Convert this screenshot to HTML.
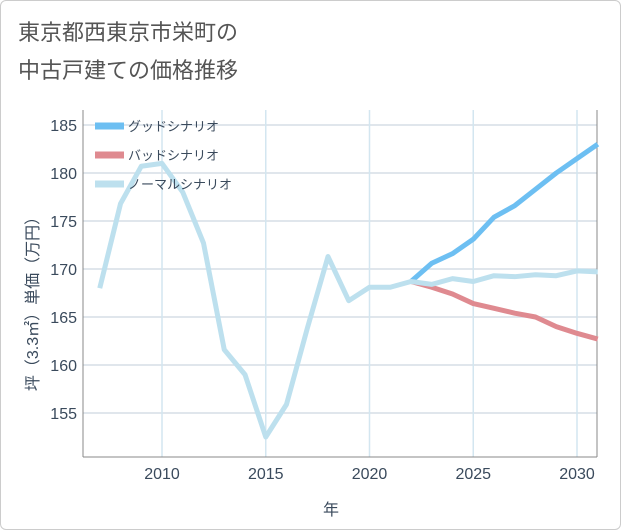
<!DOCTYPE html>
<html><head><meta charset="utf-8"><style>
body{margin:0;background:#fff;}
#c{width:619px;height:528px;border:1px solid #ccc;border-radius:6px;position:relative;font-family:"Liberation Sans","Noto Sans CJK JP",sans-serif;}
</style></head><body>
<div id="c">
<svg width="621" height="530" style="position:absolute;left:-1px;top:-1px" font-family="Liberation Sans, Noto Sans CJK JP, sans-serif">
<text x="18" y="40" font-size="22" fill="#555">東京都西東京市栄町の</text>
<text x="18" y="78" font-size="22" fill="#555">中古戸建ての価格推移</text>
<g id="grid"></g><g id="series"></g><g id="legend"></g>
<text x="331" y="515" font-size="16" fill="#3a4a5c" text-anchor="middle">年</text>
<text transform="translate(38,300) rotate(-90)" font-size="16" fill="#3a4a5c" text-anchor="middle">坪（3.3㎡）単価（万円）</text>
</svg></div>
<script>
const years=[2007,2008,2009,2010,2011,2012,2013,2014,2015,2016,2017,2018,2019,2020,2021,2022,2023,2024,2025,2026,2027,2028,2029,2030,2031];
const normal=[168,176.8,180.7,181,178,172.7,161.6,159,152.5,155.9,163.8,171.3,166.7,168.1,168.1,168.7,168.4,169,168.7,169.3,169.2,169.4,169.3,169.8,169.7];
const goodYears=[2022,2023,2024,2025,2026,2027,2028,2029,2030,2031];
const good=[168.7,170.6,171.6,173.1,175.4,176.6,178.3,180,181.5,183];
const bad=[168.7,168.1,167.4,166.4,165.9,165.4,165,164,163.3,162.7];
const yTicks=[155,160,165,170,175,180,185];
const xTicks=[2010,2015,2020,2025,2030];
const L=83,R=597,T=110,B=457;
const x=v=>162+(v-2010)*20.75;
const y=v=>125+(185-v)*9.6;
const NS='http://www.w3.org/2000/svg';
function mk(t,a,p){const e=document.createElementNS(NS,t);for(const k in a)e.setAttribute(k,a[k]);p.appendChild(e);return e;}
const g=document.getElementById('grid');
yTicks.forEach(v=>{const l=mk('line',{x1:L,x2:R,y1:y(v),y2:y(v),stroke:'#d5dde6','stroke-width':1.5},g);


const t=mk('text',{x:L-6,y:y(v)+6,'text-anchor':'end','font-size':16,fill:'#3a4a5c'},g);t.textContent=v;

});
xTicks.forEach(v=>{const l=mk('line',{x1:x(v),x2:x(v),y1:T,y2:B,stroke:'#d3e6f0','stroke-width':1.5},g);


const t=mk('text',{x:x(v),y:B+22,'text-anchor':'middle','font-size':16,fill:'#3a4a5c'},g);t.textContent=v;

});
mk('line',{x1:L,x2:L,y1:T,y2:B,stroke:'#888'},g);
mk('line',{x1:L,x2:R,y1:B,y2:B,stroke:'#888'},g);
mk('line',{x1:R,x2:R,y1:T,y2:B,stroke:'#888'},g);
const s=document.getElementById('series');
function line(xs,vs,col,name){const p=mk('polyline',{points:xs.map((v,i)=>x(v)+','+y(vs[i])).join(' '),fill:'none',stroke:col,'stroke-width':5,'stroke-linejoin':'round'},s);

}
line(goodYears,good,'#6dbff2','good-scenario-line');
line(goodYears,bad,'#df8a90','bad-scenario-line');
line(years,normal,'#bde0ee','normal-scenario-line');
const lg=document.getElementById('legend');
[['グッドシナリオ','#6dbff2'],['バッドシナリオ','#df8a90'],['ノーマルシナリオ','#bde0ee']].forEach((d,i)=>{
const yy=126+i*29;
const r=mk('rect',{x:95,y:yy-3.5,width:29,height:7,fill:d[1]},lg);


const t=mk('text',{x:128,y:yy+5,'font-size':13,fill:'#3a4a5c'},lg);t.textContent=d[0];

});
</script>
</body></html>
